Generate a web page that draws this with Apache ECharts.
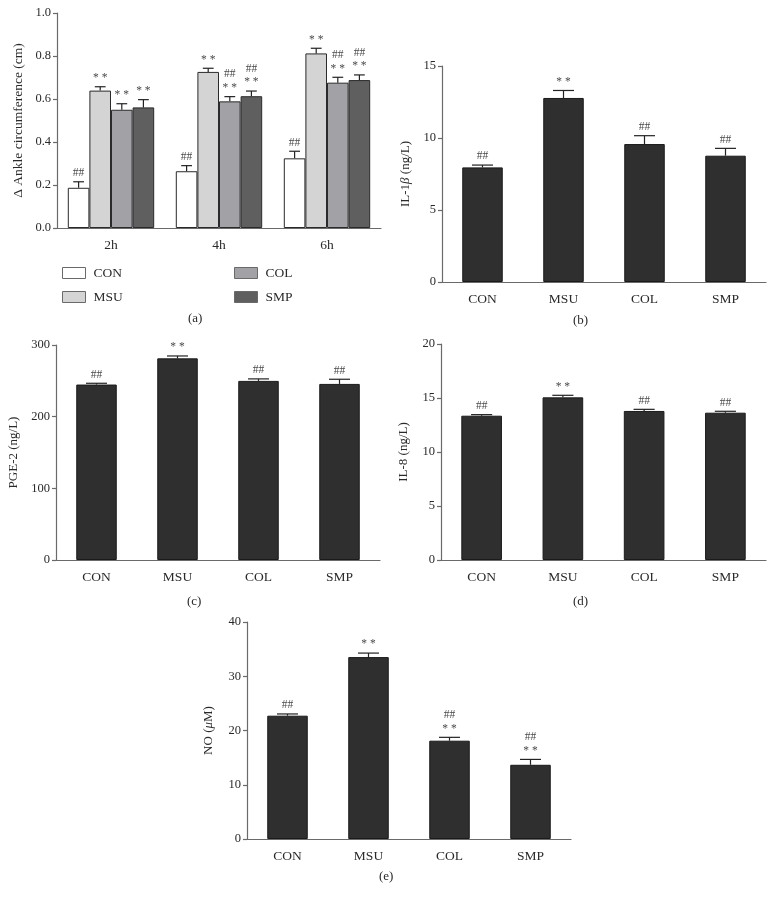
<!DOCTYPE html>
<html>
<head>
<meta charset="utf-8">
<script src="https://cdn.jsdelivr.net/npm/echarts@6/dist/echarts.min.js"></script>
<style>html,body{margin:0;padding:0;background:#fff}#c{width:775px;height:904px}</style>
</head>
<body>
<div id="c"></div>
<script>
// ---- data ----
const timeCats = ['2h', '4h', '6h'];
const groups = ['CON', 'MSU', 'COL', 'SMP'];

const ankleCON = [0.187, 0.264, 0.324];
const ankleMSU = [0.639, 0.726, 0.812];
const ankleCOL = [0.550, 0.589, 0.676];
const ankleSMP = [0.561, 0.613, 0.688];
const ankleCONErr = [0.028, 0.026, 0.033];
const ankleMSUErr = [0.018, 0.017, 0.024];
const ankleCOLErr = [0.028, 0.022, 0.025];
const ankleSMPErr = [0.036, 0.024, 0.024];
const ankleCONSig = ['##', '##', '##'];
const ankleMSUSig = ['**', '**', '**'];
const ankleCOLSig = ['**', '##|**', '##|**'];
const ankleSMPSig = ['**', '##|**', '##|**'];

const il1bMean = [7.96, 12.78, 9.58, 8.77];
const il1bErr = [0.16, 0.52, 0.58, 0.51];
const il1bSig = ['##', '**', '##', '##'];

const pge2Mean = [244.8, 281.4, 249.9, 245.7];
const pge2Err = [1.8, 3.3, 2.8, 6.5];
const pge2Sig = ['##', '**', '##', '##'];

const il8Mean = [13.36, 15.06, 13.80, 13.64];
const il8Err = [0.10, 0.19, 0.15, 0.13];
const il8Sig = ['##', '**', '##', '##'];

const noMean = [22.73, 33.53, 18.12, 13.68];
const noErr = [0.32, 0.74, 0.62, 0.99];
const noSig = ['##', '**', '##|**', '##|**'];

// ---- styles ----
const FONT = "'Liberation Serif', 'Times New Roman', serif";
const AX = '#6a6a6a';
const TXT = '#2a2a2a';
const groupColors = ['#ffffff', '#d4d4d4', '#a2a2a6', '#5f5f5f'];
const darkBar = '#2f2f2f';

function sigText(s) {
  return s.split('|').map(t => t === '**' ? '* *' : t).join('\n');
}

function errSeries(gridIdx, means, errs, sigs, offsetFrac, capFrac) {
  return {
    type: 'custom',
    xAxisIndex: gridIdx, yAxisIndex: gridIdx,
    clip: false, z: 5, silent: true,
    data: means.map((m, i) => [i, m, errs[i]]),
    renderItem: function (params, api) {
      const x = api.value(0), m = api.value(1), e = api.value(2);
      const base = api.coord([x, m]);
      const top = api.coord([x, m + e]);
      const cw = api.size([1, 0])[0];
      const cx = base[0] + offsetFrac * cw;
      const half = capFrac * cw / 2;
      const st = { stroke: '#222', lineWidth: 1.2 };
      return {
        type: 'group',
        children: [
          { type: 'line', shape: { x1: cx, y1: base[1], x2: cx, y2: top[1] }, style: st },
          { type: 'line', shape: { x1: cx - half, y1: top[1], x2: cx + half, y2: top[1] }, style: st },
          { type: 'text', style: {
              text: sigText(sigs[params.dataIndex]), x: cx, y: top[1] - 2,
              align: 'center', verticalAlign: 'bottom',
              fontSize: 11.5, lineHeight: 13.5, fontFamily: FONT, fill: '#4a4a4a' } }
        ]
      };
    }
  };
}

function catAxis(gridIdx, data, fs) {
  return {
    type: 'category', gridIndex: gridIdx, data: data,
    axisLine: { lineStyle: { color: AX, width: 1.2 } },
    axisTick: { alignWithLabel: true, length: 5, lineStyle: { color: AX, width: 1.2 } },
    axisLabel: { color: TXT, fontFamily: FONT, fontSize: fs || 13.5, margin: 10 },
    splitLine: { show: false }
  };
}

function valAxis(gridIdx, max, interval, name, nameGap, nameSize, fmt, rich) {
  return {
    type: 'value', gridIndex: gridIdx, min: 0, max: max, interval: interval,
    name: name, nameLocation: 'middle', nameGap: nameGap, nameRotate: 90,
    nameTextStyle: { color: TXT, fontFamily: FONT, fontSize: nameSize, rich: rich || {} },
    axisLine: { show: true, lineStyle: { color: AX, width: 1.2 } },
    axisTick: { show: true, length: 4, lineStyle: { color: AX, width: 1.2 } },
    axisLabel: { color: TXT, fontFamily: FONT, fontSize: 12.5, margin: 6, formatter: fmt },
    splitLine: { show: false }
  };
}

function italicRich(sz) {
  return { i: { fontStyle: 'italic', fontFamily: FONT, fontSize: sz, color: TXT } };
}

const grids = [
  { left: 57, top: 13, width: 324, height: 215 },
  { left: 442, top: 66, width: 324, height: 216 },
  { left: 56, top: 345, width: 324, height: 215 },
  { left: 441, top: 344, width: 325, height: 216 },
  { left: 247, top: 622, width: 324, height: 217 }
];

const ankleMeans = [ankleCON, ankleMSU, ankleCOL, ankleSMP];
const ankleErrs = [ankleCONErr, ankleMSUErr, ankleCOLErr, ankleSMPErr];
const ankleSigs = [ankleCONSig, ankleMSUSig, ankleCOLSig, ankleSMPSig];

const series = [];
groups.forEach((g, i) => {
  series.push({
    name: g, type: 'bar', xAxisIndex: 0, yAxisIndex: 0,
    data: ankleMeans[i], barGap: '0%', barCategoryGap: '20%',
    itemStyle: { color: groupColors[i], borderColor: '#2a2a2a', borderWidth: 1 },
    emphasis: { disabled: true }
  });
});
groups.forEach((g, i) => {
  series.push(errSeries(0, ankleMeans[i], ankleErrs[i], ankleSigs[i], -0.3 + 0.2 * i, 0.1));
});

const singles = [
  [1, il1bMean, il1bErr, il1bSig],
  [2, pge2Mean, pge2Err, pge2Sig],
  [3, il8Mean, il8Err, il8Sig],
  [4, noMean, noErr, noSig]
];
singles.forEach(([gi, m, e, s]) => {
  series.push({
    type: 'bar', xAxisIndex: gi, yAxisIndex: gi, data: m, barWidth: '50%',
    itemStyle: { color: darkBar, borderColor: '#1a1a1a', borderWidth: 1 },
    emphasis: { disabled: true }
  });
  series.push(errSeries(gi, m, e, s, 0, 0.26));
});

const legendCommon = {
  orient: 'vertical', itemWidth: 23, itemHeight: 11, itemGap: 10, icon: 'rect', selectedMode: false,
  itemStyle: { borderColor: '#6a6a6a', borderWidth: 1 },
  textStyle: { fontFamily: FONT, fontSize: 13.5, lineHeight: 14, color: TXT, padding: [0, 0, 0, 3] }
};

const labelStyle = { fontFamily: FONT, fontSize: 13, fill: TXT, align: 'center', verticalAlign: 'middle' };
const option = {
  animation: false,
  backgroundColor: '#ffffff',
  grid: grids,
  xAxis: [
    catAxis(0, timeCats, 13.5),
    catAxis(1, groups), catAxis(2, groups), catAxis(3, groups), catAxis(4, groups)
  ],
  yAxis: [
    valAxis(0, 1.0, 0.2, 'Δ Ankle circumference (cm)', 32, 13.5, v => v.toFixed(1)),
    valAxis(1, 15, 5, 'IL-1{i|β} (ng/L)', 30, 13, null, italicRich(13)),
    valAxis(2, 300, 100, 'PGE-2 (ng/L)', 36, 13, null),
    valAxis(3, 20, 5, 'IL-8 (ng/L)', 31, 13, null),
    valAxis(4, 40, 10, 'NO ({i|μ}M)', 32, 13, null, italicRich(13))
  ],
  legend: [
    Object.assign({ data: ['CON', 'MSU'], left: 57, top: 261 }, legendCommon),
    Object.assign({ data: ['COL', 'SMP'], left: 229, top: 261 }, legendCommon)
  ],
  graphic: [
    { type: 'text', left: 188, top: 312, style: Object.assign({ text: '(a)' }, labelStyle) },
    { type: 'text', left: 573, top: 314, style: Object.assign({ text: '(b)' }, labelStyle) },
    { type: 'text', left: 187, top: 595, style: Object.assign({ text: '(c)' }, labelStyle) },
    { type: 'text', left: 573, top: 595, style: Object.assign({ text: '(d)' }, labelStyle) },
    { type: 'text', left: 379, top: 870, style: Object.assign({ text: '(e)' }, labelStyle) }
  ],
  series: series
};

const chart = echarts.init(document.getElementById('c'), null, { renderer: 'canvas' });
chart.setOption(option);
</script>
</body>
</html>
